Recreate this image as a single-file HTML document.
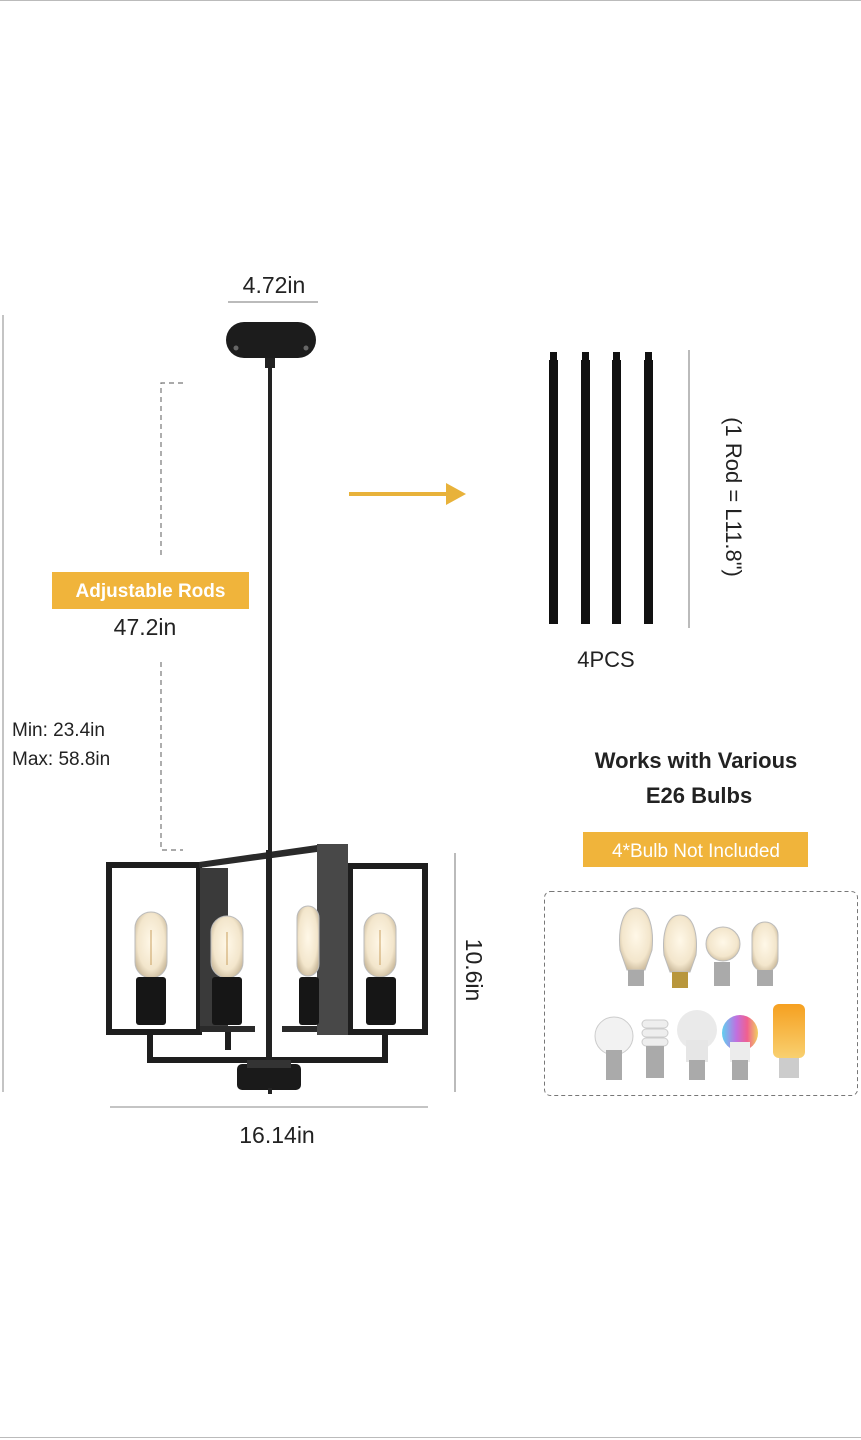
<!DOCTYPE html>
<html><head><meta charset="utf-8"><style>
html,body{margin:0;padding:0;background:#fff;}
svg{display:block;font-family:"Liberation Sans",Arial,sans-serif;}
</style></head><body>
<svg width="861" height="1440" viewBox="0 0 861 1440" xmlns="http://www.w3.org/2000/svg">
<defs>
<radialGradient id="glass" cx="50%" cy="45%" r="60%"><stop offset="0" stop-color="#fff8e8"/><stop offset="0.7" stop-color="#f3e6cc"/><stop offset="1" stop-color="#c9b89a"/></radialGradient>
<linearGradient id="rgb" x1="0" x2="1"><stop offset="0" stop-color="#5fd0f0"/><stop offset=".4" stop-color="#c070e0"/><stop offset=".7" stop-color="#f06090"/><stop offset="1" stop-color="#f0d060"/></linearGradient>
<linearGradient id="flame" x1="0" y1="0" x2="0" y2="1"><stop offset="0" stop-color="#f6a020"/><stop offset="1" stop-color="#f8d070"/></linearGradient>
</defs>
<rect width="861" height="1440" fill="#fff"/>
<line x1="0" y1="0.5" x2="861" y2="0.5" stroke="#bbb"/>
<line x1="0" y1="1437.5" x2="861" y2="1437.5" stroke="#bbb"/>

<!-- top dimension -->
<text x="274" y="293" font-size="23" text-anchor="middle" fill="#222">4.72in</text>
<line x1="228" y1="302" x2="318" y2="302" stroke="#777" stroke-width="1"/>
<!-- left total dim -->
<line x1="3" y1="315" x2="3" y2="1092" stroke="#888" stroke-width="1"/>

<!-- canopy -->
<rect x="226" y="322" width="90" height="36" rx="18" fill="#1c1c1c"/>
<circle cx="236" cy="348" r="2.5" fill="#666"/><circle cx="306" cy="348" r="2.5" fill="#666"/>
<rect x="265" y="358" width="10" height="10" fill="#222"/>
<rect x="268" y="366" width="4" height="490" fill="#222"/>

<!-- dashed bracket -->
<g stroke="#777" stroke-width="1.2" stroke-dasharray="5,4" fill="none">
<polyline points="183,383 161,383 161,556"/>
<polyline points="161,662 161,850 183,850"/>
</g>
<rect x="52" y="572" width="197" height="37" fill="#f0b43b"/>
<text x="150.5" y="597" font-size="19" font-weight="bold" fill="#fff" text-anchor="middle">Adjustable Rods</text>
<text x="145" y="635" font-size="23" fill="#222" text-anchor="middle">47.2in</text>
<text x="12" y="736" font-size="19" fill="#222">Min: 23.4in</text>
<text x="12" y="765" font-size="19" fill="#222">Max: 58.8in</text>

<!-- chandelier frame -->
<g fill="none" stroke="#1e1e1e" stroke-width="6">
<rect x="109" y="865" width="90" height="167"/>
<rect x="350" y="866" width="75" height="166"/>
<polyline points="150,1032 150,1060 385,1060 385,1032"/>
<line x1="228" y1="1032" x2="228" y2="1050"/>
</g>
<polygon points="199,862 317,845 317,852 199,868" fill="#2a2a2a"/>
<rect x="200" y="868" width="28" height="163" fill="#3a3a3a"/>
<rect x="200" y="1026" width="55" height="6" fill="#2a2a2a"/>
<rect x="282" y="1026" width="40" height="6" fill="#2a2a2a"/>
<rect x="317" y="844" width="31" height="191" fill="#484848"/>
<rect x="266" y="850" width="6" height="210" fill="#222"/>
<!-- bulbs -->
<g>
<rect x="135" y="912" width="32" height="66" rx="16" fill="url(#glass)" stroke="#bbb"/>
<rect x="211" y="916" width="32" height="62" rx="16" fill="url(#glass)" stroke="#bbb"/>
<rect x="297" y="906" width="22" height="70" rx="12" fill="url(#glass)" stroke="#bbb"/>
<rect x="364" y="913" width="32" height="64" rx="16" fill="url(#glass)" stroke="#bbb"/>
<g stroke="#c9a060" stroke-width="1"><line x1="151" y1="930" x2="151" y2="965"/><line x1="227" y1="932" x2="227" y2="965"/><line x1="380" y1="930" x2="380" y2="965"/></g>
<rect x="136" y="977" width="30" height="48" rx="3" fill="#161616"/>
<rect x="212" y="977" width="30" height="48" rx="3" fill="#161616"/>
<rect x="299" y="977" width="20" height="48" rx="3" fill="#161616"/>
<rect x="366" y="977" width="30" height="48" rx="3" fill="#161616"/>
</g>
<rect x="237" y="1064" width="64" height="26" rx="5" fill="#1a1a1a"/>
<rect x="247" y="1060" width="44" height="8" fill="#333"/>
<rect x="268" y="1088" width="4" height="6" fill="#222"/>

<!-- dims chandelier -->
<line x1="455" y1="853" x2="455" y2="1092" stroke="#777"/>
<text transform="translate(466,970) rotate(90)" font-size="23" fill="#222" text-anchor="middle">10.6in</text>
<line x1="110" y1="1107" x2="428" y2="1107" stroke="#888"/>
<text x="277" y="1143" font-size="23" fill="#222" text-anchor="middle">16.14in</text>

<!-- arrow -->
<line x1="349" y1="494" x2="450" y2="494" stroke="#e8b23a" stroke-width="4"/>
<polygon points="446,483 466,494 446,505" fill="#e8b23a"/>

<!-- rods -->
<g fill="#111">
<rect x="549" y="360" width="9" height="264"/><rect x="550" y="352" width="7" height="10"/>
<rect x="581" y="360" width="9" height="264"/><rect x="582" y="352" width="7" height="10"/>
<rect x="612" y="360" width="9" height="264"/><rect x="613" y="352" width="7" height="10"/>
<rect x="644" y="360" width="9" height="264"/><rect x="645" y="352" width="7" height="10"/>
</g>
<line x1="689" y1="350" x2="689" y2="628" stroke="#777"/>
<text transform="translate(726,497) rotate(90)" font-size="22" fill="#222" text-anchor="middle">(1 Rod = L11.8")</text>
<text x="606" y="667" font-size="22" fill="#222" text-anchor="middle">4PCS</text>

<text x="696" y="768" font-size="22" font-weight="bold" fill="#222" text-anchor="middle">Works with Various</text>
<text x="699" y="803" font-size="22" font-weight="bold" fill="#222" text-anchor="middle">E26 Bulbs</text>
<rect x="583" y="832" width="225" height="35" fill="#f0b43b"/>
<text x="696" y="857" font-size="19" fill="#fff" text-anchor="middle">4*Bulb Not Included</text>

<rect x="544.5" y="891.5" width="313" height="204" rx="6" fill="none" stroke="#777" stroke-dasharray="4,3"/>
<!-- bulbs top row -->
<g stroke="#bbb" fill="url(#glass)">
<path d="M636,908 C622,908 618,930 620,950 L627,970 L645,970 L652,950 C654,930 650,908 636,908Z"/>
<path d="M680,915 C666,915 662,935 664,955 L670,972 L690,972 L696,955 C698,935 694,915 680,915Z"/>
<circle cx="723" cy="944" r="17"/>
<rect x="752" y="922" width="26" height="50" rx="13"/>
</g>
<g fill="#aaa"><rect x="628" y="970" width="16" height="16"/><rect x="714" y="962" width="16" height="24"/><rect x="757" y="970" width="16" height="16"/></g>
<rect x="672" y="972" width="16" height="16" fill="#b8963c"/>
<!-- bottom row -->
<circle cx="614" cy="1036" r="19" fill="#f2f2f2" stroke="#ccc"/>
<rect x="606" y="1050" width="16" height="30" fill="#aaa"/>
<g fill="#eee" stroke="#ccc"><rect x="642" y="1020" width="26" height="8" rx="4"/><rect x="642" y="1029" width="26" height="8" rx="4"/><rect x="642" y="1038" width="26" height="8" rx="4"/></g>
<rect x="646" y="1046" width="18" height="32" fill="#aaa"/>
<circle cx="697" cy="1030" r="20" fill="#eaeaea"/>
<rect x="686" y="1040" width="22" height="22" fill="#e6e6e6"/><rect x="689" y="1060" width="16" height="20" fill="#aaa"/>
<circle cx="740" cy="1033" r="18" fill="url(#rgb)"/>
<rect x="730" y="1042" width="20" height="20" fill="#ececec"/><rect x="732" y="1060" width="16" height="20" fill="#aaa"/>
<rect x="773" y="1004" width="32" height="54" rx="6" fill="url(#flame)"/>
<rect x="779" y="1058" width="20" height="20" fill="#ccc"/>
</svg>
</body></html>
